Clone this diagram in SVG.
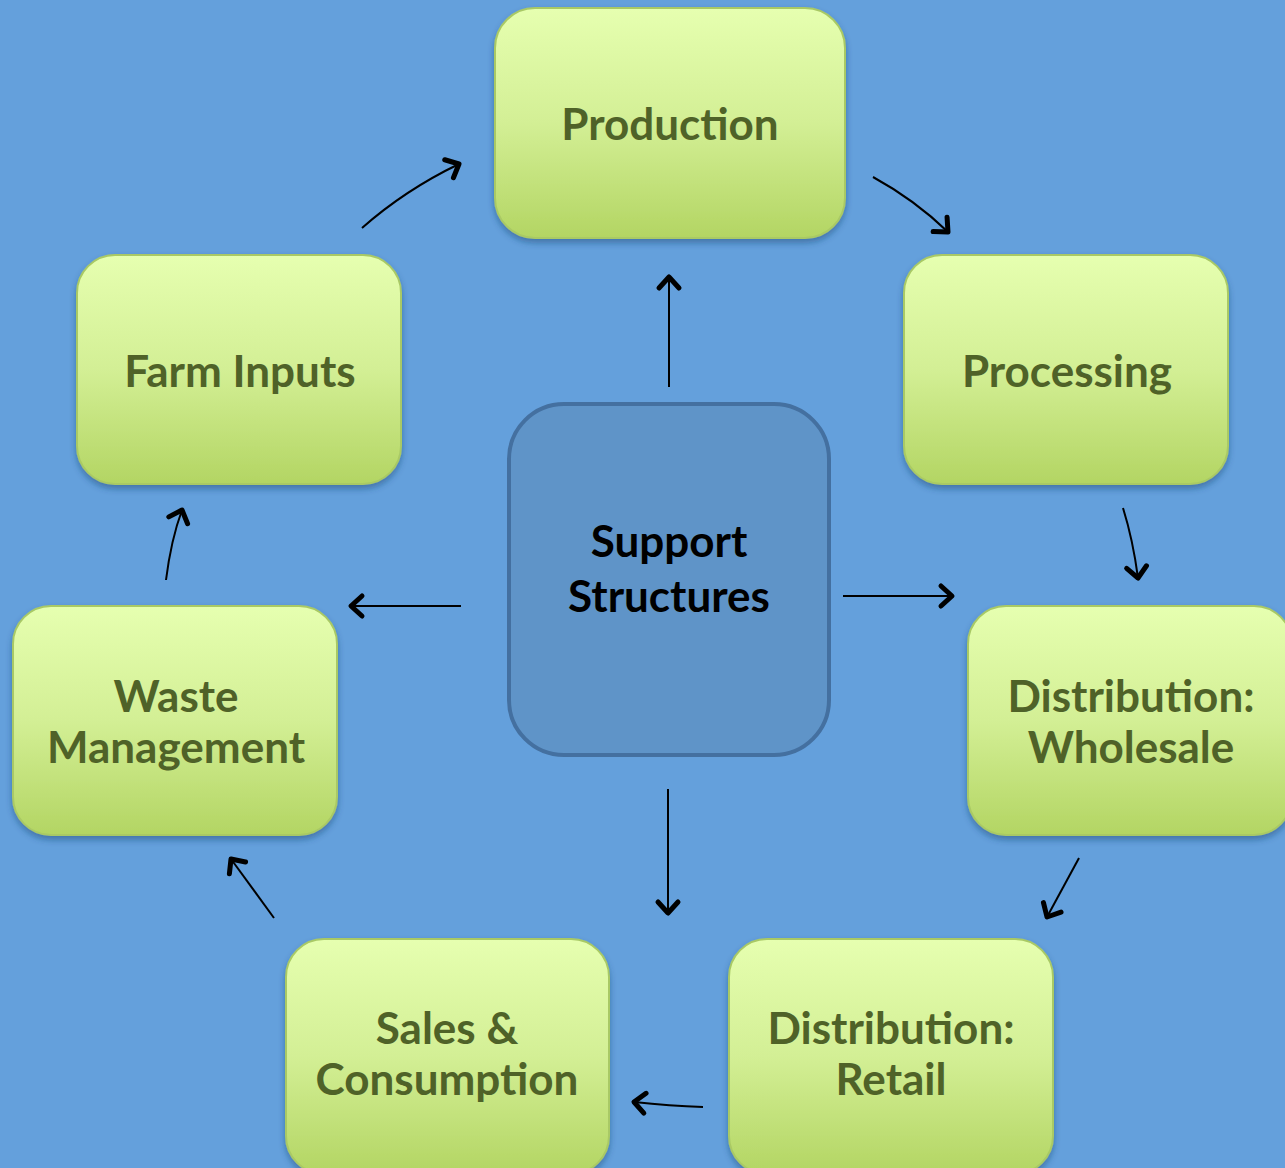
<svg xmlns="http://www.w3.org/2000/svg" width="1285" height="1168" viewBox="0 0 1285 1168">
<defs>
<linearGradient id="g" x1="0" y1="0" x2="0" y2="1">
<stop offset="0" stop-color="#e6ffb0"/>
<stop offset="0.5" stop-color="#d3ef95"/>
<stop offset="1" stop-color="#b3d563"/>
</linearGradient>
<filter id="sh" x="-10%" y="-10%" width="120%" height="125%">
<feDropShadow dx="0" dy="4" stdDeviation="3" flood-color="#1f3f6a" flood-opacity="0.45"/>
</filter>
<marker id="ah" markerUnits="userSpaceOnUse" markerWidth="30" markerHeight="30" viewBox="-15 -15 30 30" refX="0" refY="0" orient="auto">
<path d="M-11,-10 L0,0 L-11,10" fill="none" stroke="#000" stroke-width="5" stroke-linecap="round" stroke-linejoin="round"/>
</marker>
<style>
.n{fill:url(#g);stroke:#a9c965;stroke-width:2;filter:url(#sh)}
.t{font-family:Lato,"Open Sans",sans-serif;font-weight:bold;font-size:44px;fill:#4f6228;text-anchor:middle}
.c{fill:none;stroke:#000;stroke-width:2;marker-end:url(#ah)}
</style>
</defs>
<rect width="1285" height="1168" fill="#64a0dc"/>
<g id="connectors">
<path class="c" d="M362,228 Q405,190 459,164"/>
<path class="c" d="M873,177 Q915,200 948,232"/>
<path class="c" d="M1123,508 Q1133,540 1138,578"/>
<path class="c" d="M1079,858 L1047,917"/>
<path class="c" d="M703,1107 Q670,1106 634,1102"/>
<path class="c" d="M274,918 L231,859"/>
<path class="c" d="M166,580 Q171,540 182,510"/>
<path class="c" d="M669,387 L669,277"/>
<path class="c" d="M461,606 L351,606"/>
<path class="c" d="M843,596 L952,596"/>
<path class="c" d="M668,789 L668,913"/>
</g>
<g id="production"><rect class="n" x="495" y="8" width="350" height="230" rx="40"/><text class="t" x="670" y="140">Production</text></g>
<g id="processing"><rect class="n" x="904" y="255" width="324" height="229" rx="38"/><text class="t" x="1067" y="387">Processing</text></g>
<g id="farm-inputs"><rect class="n" x="77" y="255" width="324" height="229" rx="38"/><text class="t" x="240" y="387">Farm Inputs</text></g>
<g id="support"><rect x="509" y="404" width="320" height="351" rx="55" fill="#5f94c8" stroke="#4470a0" stroke-width="4"/><text class="t" x="669" y="557" style="fill:#000">Support</text><text class="t" x="669" y="612" style="fill:#000">Structures</text></g>
<g id="waste"><rect class="n" x="13" y="606" width="324" height="229" rx="38"/><text class="t" x="176" y="712">Waste</text><text class="t" x="176" y="763">Management</text></g>
<g id="wholesale"><rect class="n" x="968" y="606" width="324" height="229" rx="38"/><text class="t" x="1131" y="712">Distribution:</text><text class="t" x="1131" y="763">Wholesale</text></g>
<g id="sales"><rect class="n" x="286" y="939" width="323" height="235" rx="38"/><text class="t" x="447" y="1044">Sales &amp;</text><text class="t" x="447" y="1095">Consumption</text></g>
<g id="retail"><rect class="n" x="729" y="939" width="324" height="235" rx="38"/><text class="t" x="891" y="1044">Distribution:</text><text class="t" x="891" y="1095">Retail</text></g>
</svg>
